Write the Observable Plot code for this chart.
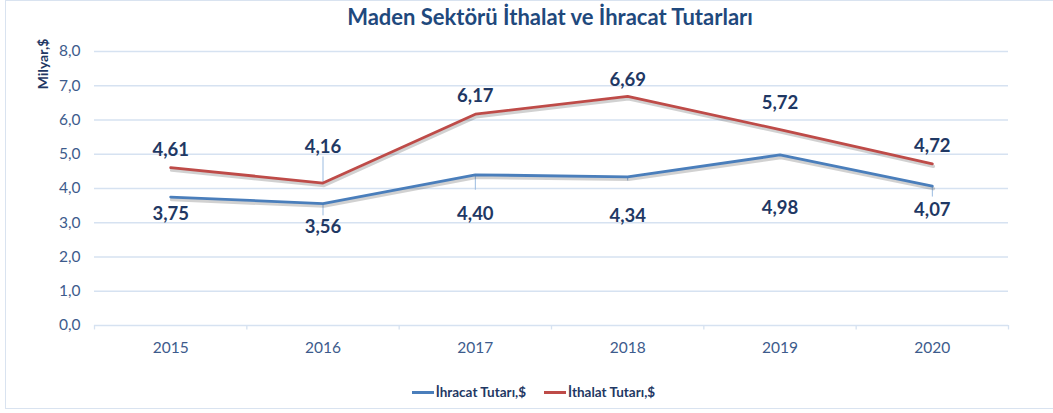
<!DOCTYPE html>
<html>
<head>
<meta charset="utf-8">
<script src="https://cdn.jsdelivr.net/npm/d3@7"></script>
<script src="https://cdn.jsdelivr.net/npm/@observablehq/plot@0.6"></script>
<style>
  html, body { margin: 0; padding: 0; background: #fff; }
  #wrap { position: relative; width: 1053px; height: 413px; overflow: hidden; font-family: Lato, "Open Sans", sans-serif; }
  #frame { position: absolute; left: 5px; top: 0px; width: 1100px; height: 409px; border: 1.5px solid #d9e3f0; box-sizing: border-box; }
  #title { position: absolute; top: 3px; left: 0; width: 1100px; text-align: center; font-size: 22px; font-weight: 700; color: #1f497d; }
  #ylab { position: absolute; left: 42px; top: 64px; transform: translate(-50%, -50%) rotate(-90deg); font-size: 14px; font-weight: 700; color: #1f3864; white-space: nowrap; }
  #chart { position: absolute; left: 0; top: 0; }
  #legend { position: absolute; top: 384px; left: 0; width: 1053px; display: flex; justify-content: center; gap: 18px; font-size: 13.5px; font-weight: 700; color: #1f3864; padding-left: 14px; box-sizing: border-box; }
  .item { display: flex; align-items: center; }
  .sw { display: inline-block; width: 22px; height: 3px; margin-right: 2px; }
  #chart svg g[aria-label="y-axis tick label"] text, #chart svg g[aria-label="x-axis tick label"] text { font-size: 15.5px; }
</style>
</head>
<body>
<div id="wrap">
  <div id="frame"></div>
  <div id="chart"></div>
  <div id="title">Maden Sektörü İthalat ve İhracat Tutarları</div>
  <div id="ylab">Milyar,$</div>
  <div id="legend"></div>
</div>
<script>
const years = ["2015", "2016", "2017", "2018", "2019", "2020"];
const ihracat = [3.75, 3.56, 4.40, 4.34, 4.98, 4.07];
const ithalat = [4.61, 4.16, 6.17, 6.69, 5.72, 4.72];
const yTicks = [0, 1, 2, 3, 4, 5, 6, 7, 8];
const seriesNames = ["İhracat Tutarı,$", "İthalat Tutarı,$"];
const seriesColors = ["#4a7ebb", "#be4b48"];

const fmt = v => v.toFixed(2).replace(".", ",");
const exp = years.map((y, i) => ({i, year: y, v: ihracat[i]}));
const imp = years.map((y, i) => ({i, year: y, v: ithalat[i]}));
const bounds = d3.range(years.length + 1).map(i => i - 0.5);

const labelColor = "#1f3864";
function labels(data, idx, dy) {
  return Plot.text(data.filter(d => idx.includes(d.i)), {
    x: "i", y: "v", text: d => fmt(d.v), dy,
    fill: labelColor, fontSize: 18.5, fontWeight: 700, fontFamily: "Lato, 'Open Sans', sans-serif"
  });
}
function leader(data, idx, len) {
  return Plot.ruleX(data.filter(d => idx.includes(d.i)), {
    x: "i", y1: "v", y2: d => d.v + len, stroke: "#9bbbe0", strokeWidth: 1
  });
}

const chart = Plot.plot({
  width: 1053,
  height: 375,
  marginLeft: 94,
  marginRight: 45,
  marginTop: 51,
  marginBottom: 50,
  style: { fontFamily: "Lato, 'Open Sans', sans-serif", background: "transparent", overflow: "visible" },
  x: { type: "linear", domain: [-0.5, years.length - 0.5] },
  y: { domain: [0, 8] },
  marks: [
    Plot.gridY(yTicks, { stroke: "#d6e2f1", strokeOpacity: 1, strokeWidth: 1.3 }),
    Plot.ruleX(bounds, { x: d => d, y1: 0, y2: -0.13, stroke: "#d6e2f1", strokeWidth: 1.3 }),
    Plot.axisY(yTicks, { tickSize: 0, tickPadding: 14, tickFormat: d => d.toFixed(1).replace(".", ","), fill: "#3d5b8c", fontSize: 15.5, label: null }),
    Plot.axisX(d3.range(years.length), { tickSize: 0, tickPadding: 16, tickFormat: i => years[i], fill: "#3d5b8c", fontSize: 15.5, label: null }),
    // leaders
    leader(imp, [1], 0.76),
    leader(exp, [1], -0.36),
    leader(exp, [2], -0.45),
    leader(exp, [3], -0.12),
    leader(exp, [5], -0.32),
    // shadows
    Plot.line(exp, { x: "i", y: "v", stroke: "#000", strokeOpacity: 0.18, strokeWidth: 3.5, dx: 1, dy: 2.5 }),
    Plot.line(imp, { x: "i", y: "v", stroke: "#000", strokeOpacity: 0.18, strokeWidth: 3.5, dx: 1, dy: 2.5 }),
    Plot.line(exp, { x: "i", y: "v", stroke: seriesColors[0], strokeWidth: 2.8 }),
    Plot.line(imp, { x: "i", y: "v", stroke: seriesColors[1], strokeWidth: 2.8 }),
    labels(imp, [0, 2, 5], -18),
    labels(imp, [3], -16),
    labels(imp, [4], -27),
    labels(imp, [1], -36),
    labels(exp, [0], 17),
    labels(exp, [1, 5], 24),
    labels(exp, [2, 3], 39),
    labels(exp, [4], 53)
  ]
});
document.getElementById("chart").appendChild(chart);

const legend = document.getElementById("legend");
seriesNames.forEach((n, k) => {
  const it = document.createElement("div");
  it.className = "item";
  it.innerHTML = `<span class="sw" style="background:${seriesColors[k]}"></span><span>${n}</span>`;
  legend.appendChild(it);
});
</script>
</body>
</html>
